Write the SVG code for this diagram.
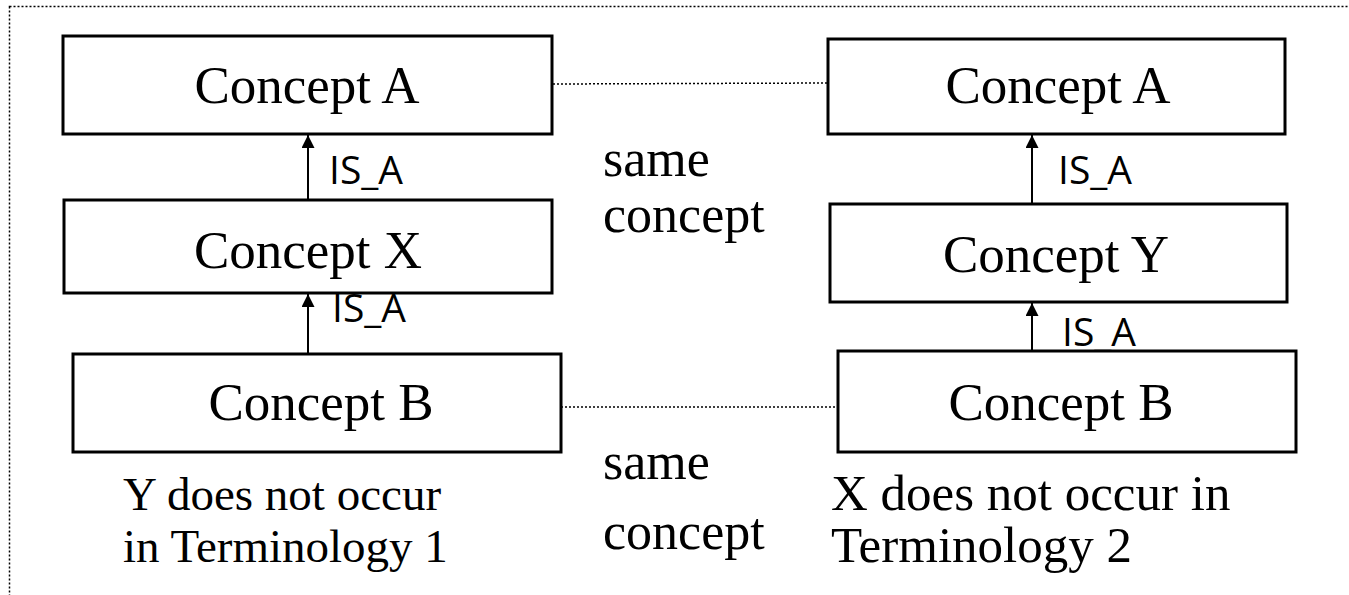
<svg xmlns="http://www.w3.org/2000/svg" width="1349" height="595" viewBox="0 0 1349 595">
<style>
.box{fill:#fff;stroke:#000;stroke-width:3}
.lbl{font-family:"Liberation Serif",serif;font-size:53px;fill:#000;text-anchor:middle}
.txt{font-family:"Liberation Serif",serif;font-size:52px;fill:#000}
.cap{font-family:"Liberation Serif",serif;font-size:47px;fill:#000}
.cap2{font-family:"Liberation Serif",serif;font-size:51px;fill:#000}
.isa{font-family:"Open Sans",sans-serif;font-size:39px;fill:#000}
.arr{stroke:#000;stroke-width:2;fill:none;marker-end:url(#ah)}
.dot{stroke:#000;stroke-width:1.5;stroke-dasharray:2 2;fill:none}
</style>
<defs>
<marker id="ah" viewBox="0 0 10 10" refX="10" refY="5" markerWidth="15" markerHeight="13" markerUnits="userSpaceOnUse" orient="auto">
<path d="M0,0 L10,5 L0,10 z" fill="#000"/>
</marker>
</defs>
<rect x="9.5" y="6.5" width="1345" height="600" fill="none" stroke="#000" stroke-width="1.5" stroke-dasharray="2 2"/>
<g id="connectors">
<line class="dot" x1="553" y1="84" x2="828" y2="83"/>
<line class="dot" x1="553" y1="407" x2="838" y2="407"/>
<line class="arr" x1="308" y1="200" x2="308" y2="135"/>
<line class="arr" x1="308" y1="354" x2="308" y2="294"/>
<line class="arr" x1="1032" y1="204" x2="1032" y2="135"/>
<line class="arr" x1="1032" y1="351" x2="1032" y2="303"/>
<text class="isa" x="329" y="184">IS_A</text>
<text class="isa" x="332" y="322">IS_A</text>
<text class="isa" x="1058" y="184">IS_A</text>
<text class="isa" x="1062" y="346">IS_A</text>
</g>
<g id="t1-concept-a"><rect class="box" x="63" y="36" width="489" height="98"/><text class="lbl" x="307" y="103">Concept A</text></g>
<g id="t1-concept-x"><rect class="box" x="64" y="200" width="488" height="93"/><text class="lbl" x="308" y="268">Concept X</text></g>
<g id="t1-concept-b"><rect class="box" x="73" y="354" width="488" height="98"/><text class="lbl" x="321" y="420">Concept B</text></g>
<g id="t2-concept-a"><rect class="box" x="828" y="39" width="457" height="95"/><text class="lbl" x="1058" y="103">Concept A</text></g>
<g id="t2-concept-y"><rect class="box" x="830" y="204" width="457" height="98"/><text class="lbl" x="1056" y="272">Concept Y</text></g>
<g id="t2-concept-b"><rect class="box" x="838" y="351" width="458" height="101"/><text class="lbl" x="1061" y="420">Concept B</text></g>
<g id="notes">
<text class="txt" x="603" y="176">same</text>
<text class="txt" x="603" y="232">concept</text>
<text class="txt" x="603" y="479">same</text>
<text class="txt" x="603" y="549">concept</text>
<text class="cap" x="123" y="510">Y does not occur</text>
<text class="cap" x="123" y="562">in Terminology 1</text>
<text class="cap2" x="831" y="510">X does not occur in</text>
<text class="cap2" x="831" y="562">Terminology 2</text>
</g>
</svg>
